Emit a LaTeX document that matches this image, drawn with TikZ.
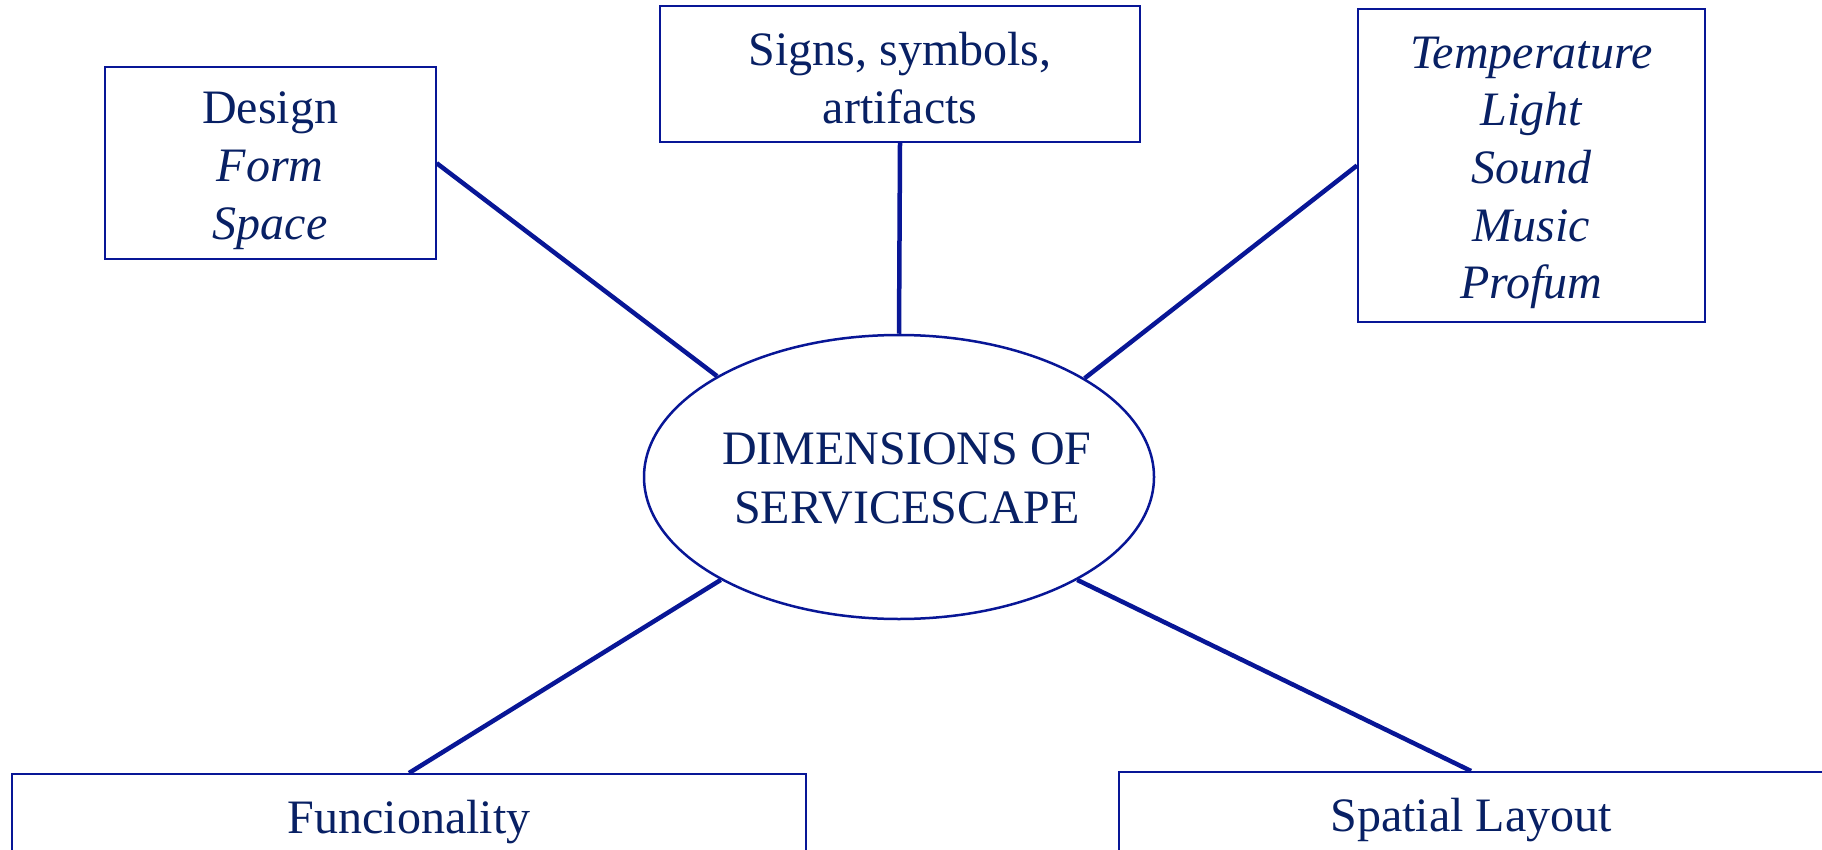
\documentclass[tikz,border=0pt]{standalone}
\usepackage{fontspec}
\setmainfont{Liberation Serif}
\usetikzlibrary{shapes.geometric}
\definecolor{lineblue}{RGB}{8,22,150}
\definecolor{textblue}{RGB}{8,32,100}
\newcommand\mytop[1]{\rule{0pt}{#1}}
\newcommand\mybot{\rule[-17pt]{0pt}{17pt}}
\begin{document}
\begin{tikzpicture}[x=1pt,y=-1pt,
  box/.style={draw=lineblue, line width=2pt, text=textblue, align=center, inner sep=0pt,
    font=\fontsize{48}{58}\selectfont},
  conn/.style={draw=lineblue, line width=4.5pt}]
\clip (0,0) rectangle (1822,850);
\fill[white] (0,0) rectangle (1822,850);
% central ellipse
\node[ellipse, draw=lineblue, line width=2.5pt, minimum width=510pt, minimum height=284pt, inner sep=0pt] (ell) at (899,477) {};
\node[text=textblue, align=center, inner sep=0pt, font=\fontsize{48}{59}\selectfont] (elltext) at (907,480)
  {\mytop{45pt}DIMENSIONS OF\\SERVICESCAPE\mybot};
% boxes
\node[box, minimum width=331pt, minimum height=192pt] (design) at (270.2,163.2)
  {\mytop{53pt}Design\\\textit{Form}\\\textit{Space}\mybot};
\node[box, minimum width=480pt, minimum height=136pt] (signs) at (900,74)
  {\mytop{59pt}Signs, symbols,\\artifacts\mybot};
\node[box, minimum width=347pt, minimum height=313pt, font=\fontsize{48}{57.5}\selectfont] (temp) at (1531.5,165.5)
  {\mytop{53pt}\textit{Temperature}\\\textit{Light}\\\textit{Sound}\\\textit{Music}\\\textit{Profum}\mybot};
\node[box, minimum width=794pt, minimum height=90pt] (func) at (409,819)
  {\mytop{45pt}Funcionality\mybot};
\node[box, minimum width=704pt, minimum height=90pt] (spatial) at (1471,817)
  {\mytop{46pt}Spatial Layout\mybot};
% connectors
\draw[conn] (design.east) -- (ell.151);
\draw[conn] (signs.south) -- (ell.north);
\draw[conn] (temp.west) -- (ell.28.5);
\draw[conn] (ell.210.2) -- (func.north);
\draw[conn] (ell.330.3) -- (spatial.north);
\end{tikzpicture}
\end{document}
